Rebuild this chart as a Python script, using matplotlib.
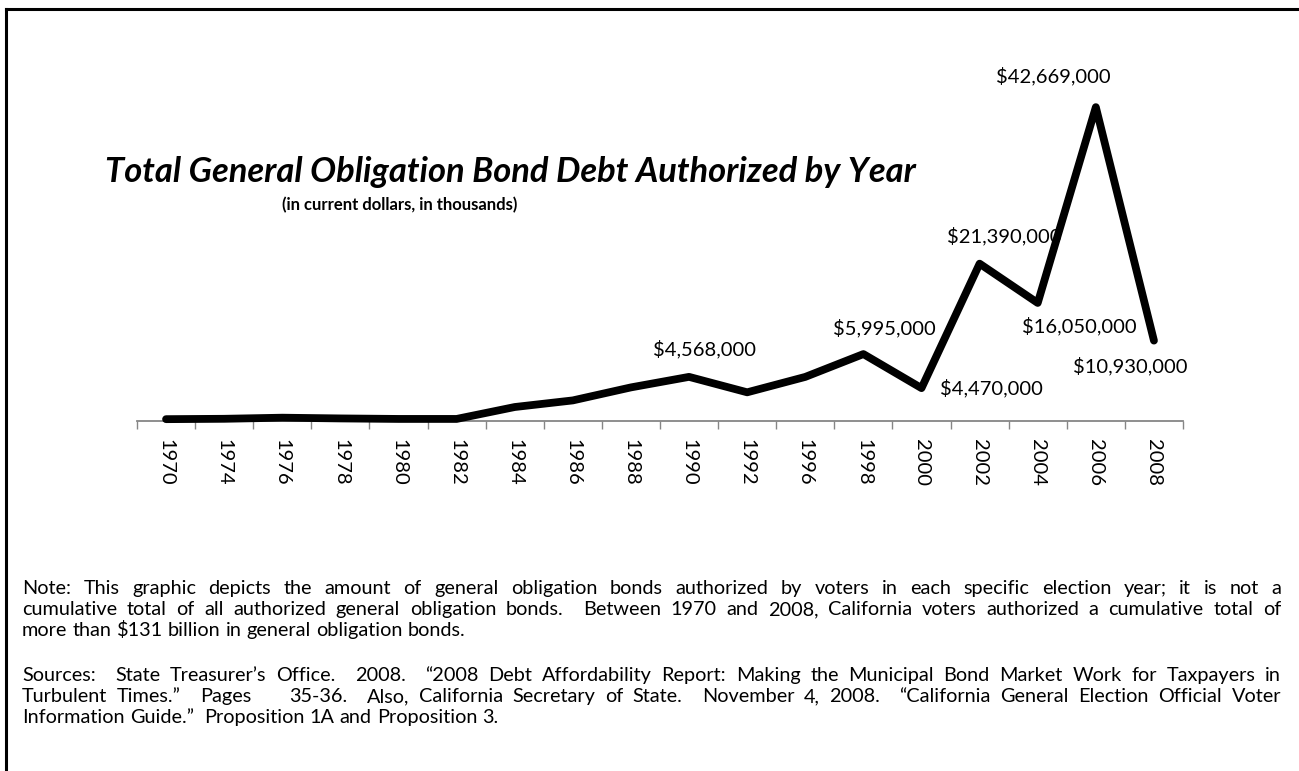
import matplotlib
matplotlib.use('Agg')
import matplotlib.pyplot as plt
import numpy as np
from matplotlib.lines import Line2D

plt.rcParams['font.family'] = ['Lato', 'DejaVu Sans']
plt.rcParams['text.parse_math'] = False

# bond debt authorized per election year, thousands of dollars
years = ['1970', '1974', '1976', '1978', '1980', '1982', '1984', '1986', '1988',
         '1990', '1992', '1996', '1998', '2000', '2002', '2004', '2006', '2008']
authorized = [250000, 300000, 450000, 350000, 280000, 280000, 1900000, 2800000, 4568000,
              6000000, 3900000, 5995000, 9100000, 4470000, 21390000, 16050000, 42669000, 10930000]

# years that get a value label
labelled_years = ['1988', '1996', '2000', '2002', '2004', '2006', '2008']
# where each label sits relative to its point (pixels, y up)
label_offsets = [(74, 38), (79, 49), (70, 0), (25, 28), (42, -23), (-43, 31), (-24, -25)]

title = 'Total General Obligation Bond Debt Authorized by Year'
subtitle = '(in current dollars, in thousands)'
note_lines = [
    'Note: This graphic depicts the amount of general obligation bonds authorized by voters in each specific election year; it is not a',
    'cumulative total of all authorized general obligation bonds.  Between 1970 and 2008, California voters authorized a cumulative total of',
    'more than $131 billion in general obligation bonds.',
]
source_lines = [
    'Sources:  State Treasurer\u2019s Office.  2008.  \u201c2008 Debt Affordability Report: Making the Municipal Bond Market Work for Taxpayers in',
    'Turbulent Times.\u201d  Pages    35-36.  Also, California Secretary of State.  November 4, 2008.  \u201cCalifornia General Election Official Voter',
    'Information Guide.\u201d  Proposition 1A and Proposition 3.',
]

W, H = 1299, 771
fig = plt.figure(figsize=(W / 100, H / 100), dpi=100)

# frame: only top and left edges
fig.add_artist(Line2D([6 / W, 1], [1 - 9 / H, 1 - 9 / H], color='black', lw=2.2))
fig.add_artist(Line2D([6 / W, 6 / W], [0, 1 - 9 / H], color='black', lw=2.2))

ax = fig.add_axes([137 / W, (H - 421) / H, 1046 / W, 331 / H])
x = np.arange(len(years))
ax.plot(x, authorized, color='black', lw=5.6, solid_joinstyle='round',
        solid_capstyle='round', zorder=3, clip_on=False)

ax.set_xlim(-0.5, len(years) - 0.5)
ax.set_ylim(0, 45000000)
for side in ['left', 'right', 'top']:
    ax.spines[side].set_visible(False)
ax.spines['bottom'].set_color('#868686')
ax.spines['bottom'].set_linewidth(1.3)
ax.set_yticks([])
ax.set_xticks(x)
ax.set_xticklabels(years, rotation=-90, fontsize=14.5, va='top', ha='center')
ax.tick_params(axis='x', which='major', length=0, pad=13)
ax.set_xticks(np.arange(-0.5, len(years), 1), minor=True)
ax.tick_params(axis='x', which='minor', length=6, width=1, color='#868686', direction='out')

for yr, (dx, dy) in zip(labelled_years, label_offsets):
    i = years.index(yr)
    ax.annotate(f'${authorized[i]:,}', (i, authorized[i]), xytext=(dx, dy),
                textcoords='offset pixels', ha='center', va='center',
                fontsize=14.5, zorder=2, annotation_clip=False)

fig.text(105 / W, 1 - 182 / H, title, fontsize=24.8, fontweight='bold',
         fontstyle='italic', va='baseline', ha='left')
fig.text(400 / W, 1 - 210 / H, subtitle, fontsize=12, fontweight='bold',
         va='baseline', ha='center')

renderer = fig.canvas.get_renderer()
NOTE_FS = 14.3


def put_line(line, y, x0=22, x1=1281, last=False):
    # spreads the words of one line over x0..x1 (last line of a paragraph stays ragged)
    words = line.split(' ')
    arts = [fig.text(0, 1 - y / H, w, fontsize=NOTE_FS, va='baseline') for w in words]
    widths = [a.get_window_extent(renderer).width if w else 0 for a, w in zip(arts, words)]
    if last or len(words) < 2:
        gap = NOTE_FS * 0.26 * 100 / 72
    else:
        gap = (x1 - x0 - sum(widths)) / (len(words) - 1)
    pos = x0
    for a, w in zip(arts, widths):
        a.set_x(pos / W)
        pos += w + gap


for k, line in enumerate(note_lines):
    put_line(line, 594 + 21 * k, last=(k == len(note_lines) - 1))
for k, line in enumerate(source_lines):
    put_line(line, 681 + 21 * k, last=(k == len(source_lines) - 1))

fig.savefig('out.png', dpi=100)
